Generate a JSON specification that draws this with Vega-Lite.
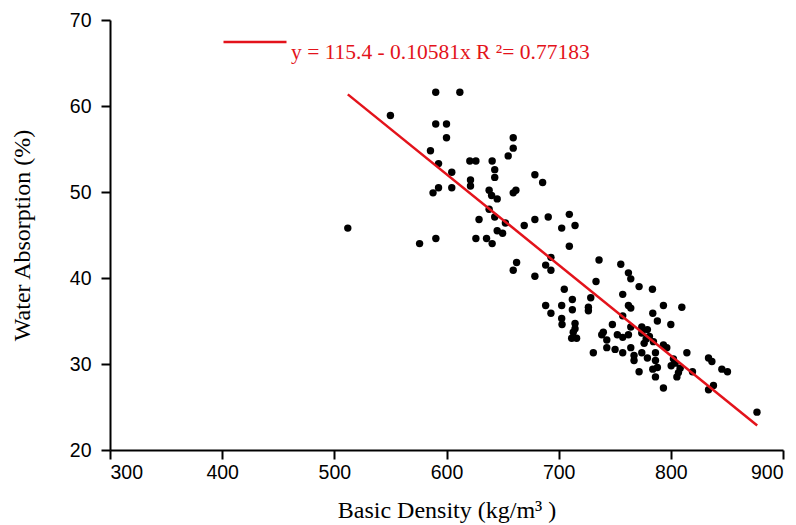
{
  "$schema": "https://vega.github.io/schema/vega-lite/v6.json",
  "width": 673,
  "height": 430,
  "autosize": {"type": "none"},
  "padding": {"left": 110, "top": 20, "right": 13, "bottom": 75},
  "background": "white",
  "config": {
    "view": {"stroke": null},
    "axis": {
      "domainColor": "black", "domainWidth": 2,
      "tickColor": "black", "tickWidth": 2, "tickSize": 9,
      "grid": false,
      "labelFont": "Liberation Sans", "labelFontSize": 19.5, "labelColor": "black",
      "titleFont": "Liberation Serif", "titleFontSize": 24, "titleFontWeight": "normal", "titleColor": "black"
    }
  },
  "datasets": {
    "points": [
      {"density": 512, "wa": 45.8}, {"density": 550, "wa": 58.9}, {"density": 590.4, "wa": 61.6}, {"density": 611.9, "wa": 61.6},
      {"density": 590.4, "wa": 57.9}, {"density": 600, "wa": 57.9}, {"density": 600, "wa": 56.3}, {"density": 585.7, "wa": 54.8},
      {"density": 592.9, "wa": 53.3}, {"density": 620.8, "wa": 53.6}, {"density": 626.2, "wa": 53.6}, {"density": 604.7, "wa": 52.3},
      {"density": 621.4, "wa": 51.4}, {"density": 621.4, "wa": 50.7}, {"density": 592.9, "wa": 50.5}, {"density": 604.7, "wa": 50.5},
      {"density": 588, "wa": 49.9}, {"density": 629, "wa": 46.8}, {"density": 659.5, "wa": 56.3}, {"density": 659.5, "wa": 55.1},
      {"density": 655, "wa": 54.2}, {"density": 640.7, "wa": 53.6}, {"density": 643, "wa": 52.6}, {"density": 643, "wa": 51.7},
      {"density": 678.8, "wa": 52.0}, {"density": 685.7, "wa": 51.1}, {"density": 638, "wa": 50.2}, {"density": 640.2, "wa": 49.6},
      {"density": 645.2, "wa": 49.2}, {"density": 659.5, "wa": 49.9}, {"density": 661.9, "wa": 50.2}, {"density": 638, "wa": 48.0},
      {"density": 643, "wa": 47.1}, {"density": 678.8, "wa": 46.8}, {"density": 690.7, "wa": 47.1}, {"density": 709.5, "wa": 47.4},
      {"density": 652.5, "wa": 46.4}, {"density": 669.3, "wa": 46.1}, {"density": 702.7, "wa": 45.8}, {"density": 714.6, "wa": 46.1},
      {"density": 709.5, "wa": 43.7}, {"density": 626.2, "wa": 44.6}, {"density": 635.7, "wa": 44.6}, {"density": 640.7, "wa": 44.0},
      {"density": 645.2, "wa": 45.5}, {"density": 650, "wa": 45.2}, {"density": 662.5, "wa": 41.8}, {"density": 659.5, "wa": 40.9},
      {"density": 693.1, "wa": 42.4}, {"density": 688.4, "wa": 41.5}, {"density": 693.1, "wa": 40.9}, {"density": 678.8, "wa": 40.2},
      {"density": 705, "wa": 38.7}, {"density": 688.4, "wa": 36.8}, {"density": 702.7, "wa": 36.8}, {"density": 693.1, "wa": 35.9},
      {"density": 702.7, "wa": 35.3}, {"density": 736, "wa": 42.1}, {"density": 755.4, "wa": 41.6}, {"density": 762.2, "wa": 40.6},
      {"density": 764.3, "wa": 39.9}, {"density": 733.3, "wa": 39.6}, {"density": 771.7, "wa": 39.0}, {"density": 783.6, "wa": 38.7},
      {"density": 757.1, "wa": 38.1}, {"density": 712.2, "wa": 37.5}, {"density": 728.6, "wa": 37.7}, {"density": 712.2, "wa": 36.3},
      {"density": 726.5, "wa": 36.6}, {"density": 726.5, "wa": 36.2}, {"density": 762.2, "wa": 36.8}, {"density": 764.3, "wa": 36.5},
      {"density": 793.4, "wa": 36.8}, {"density": 809.8, "wa": 36.6}, {"density": 783.9, "wa": 35.9}, {"density": 757.1, "wa": 35.6},
      {"density": 788, "wa": 35.0}, {"density": 800, "wa": 34.6}, {"density": 703, "wa": 34.6}, {"density": 714.6, "wa": 34.7},
      {"density": 714.6, "wa": 34.1}, {"density": 713, "wa": 33.7}, {"density": 747.9, "wa": 34.6}, {"density": 764.3, "wa": 34.3},
      {"density": 774.1, "wa": 34.3}, {"density": 779.1, "wa": 34.0}, {"density": 739.8, "wa": 33.7}, {"density": 738.4, "wa": 33.4},
      {"density": 752.3, "wa": 33.4}, {"density": 757.1, "wa": 33.1}, {"density": 762.2, "wa": 33.4}, {"density": 742.9, "wa": 32.8},
      {"density": 774.1, "wa": 33.6}, {"density": 780.9, "wa": 33.2}, {"density": 778, "wa": 32.9}, {"density": 784.5, "wa": 32.6},
      {"density": 711.6, "wa": 33.0}, {"density": 716, "wa": 33.0}, {"density": 793.4, "wa": 32.2}, {"density": 796.4, "wa": 31.9},
      {"density": 742.9, "wa": 31.9}, {"density": 750.3, "wa": 31.7}, {"density": 764.3, "wa": 31.9}, {"density": 730.9, "wa": 31.3},
      {"density": 757.1, "wa": 31.3}, {"density": 767.2, "wa": 31.0}, {"density": 767.2, "wa": 30.4}, {"density": 774.1, "wa": 31.3},
      {"density": 776.2, "wa": 32.4}, {"density": 779.1, "wa": 30.7}, {"density": 786.3, "wa": 31.3}, {"density": 786.3, "wa": 30.4},
      {"density": 788, "wa": 29.6}, {"density": 783.9, "wa": 29.4}, {"density": 771.7, "wa": 29.1}, {"density": 786.3, "wa": 28.5},
      {"density": 793.4, "wa": 27.2}, {"density": 802.3, "wa": 30.6}, {"density": 803.8, "wa": 30.1}, {"density": 800.3, "wa": 29.8},
      {"density": 808.3, "wa": 29.5}, {"density": 806.8, "wa": 29.0}, {"density": 805.4, "wa": 28.5}, {"density": 814.3, "wa": 31.3},
      {"density": 819.3, "wa": 29.1}, {"density": 833.6, "wa": 30.7}, {"density": 836.6, "wa": 30.3}, {"density": 845.5, "wa": 29.4},
      {"density": 850.5, "wa": 29.1}, {"density": 838, "wa": 27.5}, {"density": 833.6, "wa": 27.0}, {"density": 876.8, "wa": 24.4},
      {"density": 576, "wa": 44.0}, {"density": 590.5, "wa": 44.6}
    ],
    "fit": [
      {"density": 512, "wa": 61.35},
      {"density": 877, "wa": 22.85}
    ]
  },
  "layer": [
    {
      "data": {"name": "points"},
      "mark": {"type": "point", "filled": true, "size": 55, "color": "black", "opacity": 1},
      "encoding": {
        "x": {"field": "density", "type": "quantitative", "scale": {"domain": [300, 900], "nice": false, "zero": false},
              "axis": {"values": [300, 400, 500, 600, 700, 800, 900], "title": "Basic Density (kg/m³ )", "labelPadding": 4, "titlePadding": 17}},
        "y": {"field": "wa", "type": "quantitative", "scale": {"domain": [20, 70], "nice": false, "zero": false},
              "axis": {"values": [20, 30, 40, 50, 60, 70], "title": "Water Absorption (%)", "labelPadding": 10, "titlePadding": 35}}
      }
    },
    {
      "data": {"name": "fit"},
      "mark": {"type": "line", "strokeWidth": 2.5},
      "encoding": {
        "x": {"field": "density", "type": "quantitative"},
        "y": {"field": "wa", "type": "quantitative"},
        "color": {
          "datum": "y = 115.4 - 0.10581x R ²= 0.77183",
          "type": "nominal",
          "scale": {"range": ["#e3131b"]},
          "legend": {
            "title": null, "orient": "none", "legendX": 112, "legendY": -11, "padding": 0,
            "symbolType": "stroke", "symbolSize": 3969, "symbolStrokeWidth": 2.5, "symbolStrokeColor": "#e3131b",
            "labelFont": "Liberation Serif", "labelFontSize": 21.5, "labelColor": "#e3131b", "labelLimit": 600,
            "labelOffset": 3, "labelBaseline": "top"
          }
        }
      }
    }
  ]
}
